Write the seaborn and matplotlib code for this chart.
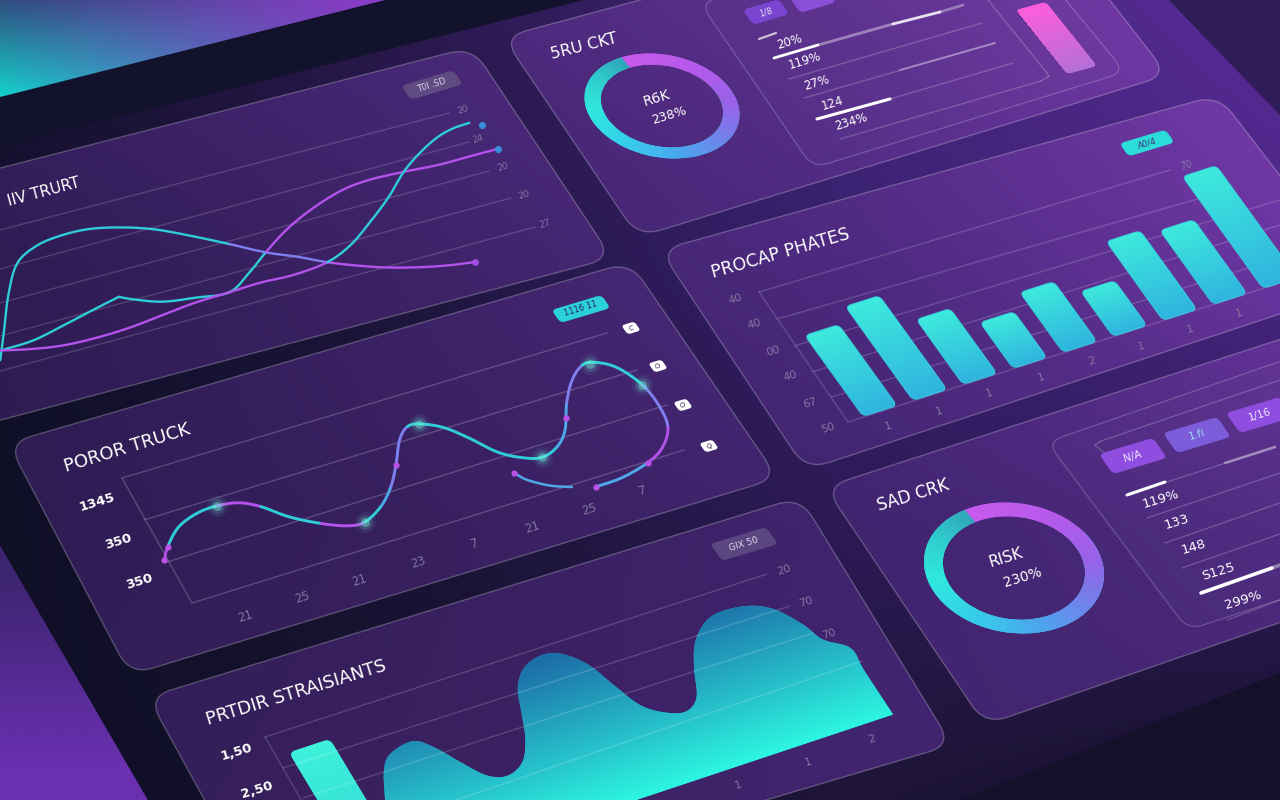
import numpy as np
import matplotlib
matplotlib.use("Agg")
import matplotlib.pyplot as plt
import seaborn as sns
from matplotlib.colors import to_rgb
from matplotlib.patches import PathPatch, FancyBboxPatch
from matplotlib.path import Path
from matplotlib.transforms import Affine2D

# ---------- data ----------
trend_a_x = [7,27,56,82,109,136,163,191,217,244,270,295,319,340,364,387,414,440,463]
trend_a_y = [29,51,83,106,116,119,118,112,103,89,74,59,48,37,27,19,12,7,4]
trend_b_x = [16,47,83,116,145,157,179,209,240,269,295,326,358,394,424,460,492,524,553]
trend_b_y = [37,38,44,50,55,49,41,37,34,46,59,73,84,93,96,95,93,93,93]
trend_c_x = [13,41,70,103,136,170,205,240,272,304,340,370,401,431,460,485,509,528,545]
trend_c_y = [37,31,27,26,27,30,33,34,35,34,37,46,61,77,95,107,116,120,121]
trend_labels = ["20", "24", "20", "20", "27"]

truck_x = [8,17,36,59,79,99,116,135,159,181,197,218,236,251,267,280,292,310,326,344,362,379,397,412,427,443,459,471,487,500,504,501,486,466,437,411]
truck_y = [54,64,78,85,86,83,74,58,44,35,34,43,57,74,95,104,103,94,79,59,48,43,48,60,83,101,111,110,100,79,57,36,20,11,5,4]
truck_tail_x = [348,355,372,390]
truck_tail_y = [37,28,17,10]
truck_dot_x = [8,17,251,419,467,348,411]
truck_dot_y = [54,64,74,70,11,37,4]
truck_glow_x = [79,197,291,379,466,500]
truck_glow_y = [86,34,103,43,110,79]
truck_xlabels = ["21","25","21","23","7","21","25","7"]
truck_ylabels = ["1345","350","350"]

rate_ids = list(range(9))
rate_values = [81,94,65,46,60,45,79,74,112]
rate_xlabels = ["1","1","1","1","2","1","1","1"]
rate_ylabels = ["40","40","00","40","67","50"]

strain_x = [85,127,141,155,180,195,209,224,241,260,274,284,294,310,331,348,364,375,387,404,422,438,451,466,490,521,545,563,572,591,591,593,593]
strain_y = [0,70,95,107,111,99,80,62,56,63,81,104,127,142,147,142,126,102,78,65,60,69,95,117,132,132,122,100,82,67,45,3,0]
strain_bar_x = [91]
strain_bar_y = [136]

risk_top = [23.8, 76.2]
risk_low = [23.0, 77.0]
side_bar_value = [64]

# ---------- helpers ----------
sns.set_theme(style="white")
fig = plt.figure(figsize=(12.8, 8), dpi=100, facecolor="#12122c")
N_SMOOTH = 8

def new_axes():
    ax = fig.add_axes([0, 0, 1, 1])
    ax.set_axis_off()
    ax.patch.set_visible(False)
    ax.set_autoscale_on(False)
    ax.set_xlim(0, 1280)
    ax.set_ylim(800, 0)
    return ax

canvas = new_axes()

def plane(O, ex, ey):
    m = np.array([[ex[0], ey[0], O[0]], [ex[1], ey[1], O[1]], [0, 0, 1.0]])
    return Affine2D(matrix=m) + canvas.transData

def warp(ax, T):
    for a in list(ax.lines) + list(ax.patches):
        a.set_transform(T)
    for c in ax.collections:
        c.set_offset_transform(T)

def smooth(xs, ys, n=N_SMOOTH):
    """Draws a read series as a rounded curve (line style only), knot i lands at index i*n."""
    P = np.column_stack([xs, ys]).astype(float)
    P = np.vstack([2*P[0]-P[1], P, 2*P[-1]-P[-2]])
    out = []
    for i in range(1, len(P)-2):
        for t in np.arange(n)/n:
            p = 0.5*((2*P[i]) + (P[i+1]-P[i-1])*t + (2*P[i-1]-5*P[i]+4*P[i+1]-P[i+2])*t**2
                     + (3*P[i]-P[i-1]-3*P[i+1]+P[i+2])*t**3)
            out.append(p)
    out.append(P[-2])
    out = np.array(out)
    return out[:, 0], out[:, 1]

def rpath(pts, r):
    pts = [np.array(p, float) for p in pts]
    n = len(pts)
    verts, codes = [], []
    for i, p in enumerate(pts):
        a = p + (pts[i-1]-p)/np.linalg.norm(pts[i-1]-p)*r
        b = p + (pts[(i+1) % n]-p)/np.linalg.norm(pts[(i+1) % n]-p)*r
        verts += [a, p, b]
        codes += [Path.MOVETO if i == 0 else Path.LINETO, Path.CURVE3, Path.CURVE3]
    verts.append(verts[0]); codes.append(Path.CLOSEPOLY)
    return Path(verts, codes)

def grid_img(ax, rows, clip):
    arr = np.array([[to_rgb(c) for c in r] for r in rows])
    im = ax.imshow(arr, extent=(-213, 1493, 933, -133), origin="upper",
                   aspect="auto", interpolation="bilinear", zorder=1)
    im.set_clip_path(clip, ax.transData)
    return im

def vgrad(ax, T, x0, x1, y0, y1, c0, c1, clip):
    t = np.linspace(0, 1, 64)[:, None, None]
    arr = (1-t)*np.array(to_rgb(c0))[None, None, :] + t*np.array(to_rgb(c1))[None, None, :]
    im = ax.imshow(arr, extent=(x0, x1, y0, y1), origin="lower", aspect="auto",
                   interpolation="bilinear", transform=T, zorder=3)
    im.set_clip_path(clip)
    return im

def seg(ax, pts, color="white", lw=1.0, alpha=0.2, z=2):
    p = np.array(pts)
    ax.plot(p[:, 0], p[:, 1], color=color, lw=lw, alpha=alpha, zorder=z, solid_capstyle="round")

def para(cx, cy, w, h, s=0.3, k=0.7):
    ex = np.array([1, -s]) * w/2
    ey = np.array([k, 1]) * h/2
    c = np.array([cx, cy])
    return [c-ex-ey, c+ex-ey, c+ex+ey, c-ex+ey]

def curve(ax, xs, ys, color, lw, z=3):
    sns.lineplot(x=list(xs), y=list(ys), ax=ax, color=color, lw=lw, estimator=None, sort=False, zorder=z)

# ---------- background ----------
BG_ROWS = [["#1d1338", "#2c1950", "#42257a", "#5a2c98"],
           ["#100f28", "#1f1640", "#3a2170", "#4a2684"],
           ["#0f0f26", "#1a1436", "#2c1a55", "#2e1a58"],
           ["#100f26", "#14112c", "#1e1538", "#14102a"]]
PANEL_ROWS = [["#3d2268", "#49297a", "#5e3190", "#7a3cae"],
              ["#2e1c52", "#3e2368", "#4d2a80", "#6a35a0"],
              ["#2d1c52", "#38205f", "#40246e", "#4e2a80"],
              ["#321e58", "#3a215f", "#41246e", "#44266f"]]

tri = Path([(0, 0), (385, 0), (0, 97), (0, 0)])
arr = np.array([[to_rgb("#2f4d7e"), to_rgb("#8d3bc9")], [to_rgb("#12d4cc"), to_rgb("#8d3bc9")]])
im = canvas.imshow(arr, extent=(-192, 577, 145, -48), origin="upper", aspect="auto", interpolation="bilinear")
im.set_clip_path(tri, canvas.transData)

tri2 = Path([(0, 545), (148, 800), (0, 800), (0, 545)])
arr = np.array([[to_rgb("#3d2470")], [to_rgb("#6a30b0")]])
im = canvas.imshow(arr, extent=(0, 148, 860, 485), origin="upper", aspect="auto", interpolation="bilinear")
im.set_clip_path(tri2, canvas.transData)

canvas.add_patch(PathPatch(Path([(1169, 0), (1280, 0), (1280, 115), (1169, 0)]), fc="#2f1c58", ec="none", lw=0))
canvas.add_patch(PathPatch(Path([(1280, 673), (1280, 800), (960, 800), (1280, 673)]), fc="#14102a", ec="none", lw=0))
slab = Path([(0, 147), (584, 0), (1169, 0), (1280, 115), (1280, 673), (960, 800), (148, 800), (0, 545), (0, 147)])
grid_img(canvas, BG_ROWS, slab)

panels = [
    [(-300, 245), (472, 47), (612, 258), (-150, 460)],
    [(503, 37), (1028, -105), (1168, 75), (638, 237)],
    [(8, 443), (630, 262), (778, 478), (130, 675)],
    [(148, 697), (800, 497), (952, 745), (283, 943)],
    [(660, 250), (1218, 95), (1365, 286), (806, 470)],
    [(825, 487), (1500, 268), (1500, 546), (985, 725)],
]
for pts in panels:
    p = rpath(pts, 24)
    grid_img(canvas, PANEL_ROWS, p)
    canvas.add_patch(PathPatch(p, fc="none", ec="white", lw=1.0, alpha=0.24, zorder=2))

for pts, r in [([(700, 3), (1000, -80), (1125, 72), (813, 168)], 16),
               ([(1047, 442), (1400, 320), (1400, 560), (1188, 630)], 16)]:
    canvas.add_patch(PathPatch(rpath(pts, r), fc=(1, 1, 1, 0.015), ec=(1, 1, 1, 0.2), lw=0.9, zorder=2))

# frame / grid lines
for a, b in [((0, 230), (449, 113)), ((0, 269), (469, 142)), ((0, 303), (489, 171)),
             ((0, 336), (511, 198)), ((0, 371), (535, 227))]:
    seg(canvas, [a, b], alpha=0.16)
for a, b in [((122, 478), (607, 333)), ((144, 520), (637, 370)), ((167, 562), (667, 405)),
             ((192, 603), (684, 450)), ((122, 478), (192, 603))]:
    seg(canvas, [a, b], alpha=0.2)
for a, b in [((759, 292), (1170, 170)), ((777, 319), (1201, 198)), ((794, 346), (1280, 200)),
             ((812, 372), (1280, 225)), ((832, 397), (1280, 258)), ((848, 422), (1280, 283)),
             ((759, 292), (848, 422))]:
    seg(canvas, [a, b], alpha=0.17)
for a, b in [((789, 79), (982, 23)), ((804, 98), (995, 43)), ((890, 99), (1013, 63)),
             ((988, 0), (1047, 73)), ((1047, 73), (1049, 76)), ((1049, 76), (1041, 81)), ((1041, 81), (840, 139)),
             ((1167, 482), (1275, 447)), ((1147, 518), (1280, 473)), ((1165, 543), (1280, 503)),
             ((1182, 568), (1280, 534)), ((1227, 620), (1280, 600)),
             ((1103, 452), (1095, 445)), ((1095, 445), (1101, 441)), ((1101, 441), (1280, 380))]:
    seg(canvas, [a, b], alpha=0.2)

# ---------- trend chart ----------
T1 = plane((15, 391), (1, -0.27), (-0.75, -1))
ax = new_axes()
TEAL, PURPLE, PERI, BLUE = "#2fcdd8", "#b452ec", "#7f80f0", "#4fa8e8"
n = N_SMOOTH
ax_, ay_ = smooth(trend_a_x, trend_a_y)
curve(ax, ax_[:10*n+1], ay_[:10*n+1], TEAL, 1.7)
curve(ax, ax_[10*n:13*n+1], ay_[10*n:13*n+1], PERI, 1.7)
curve(ax, ax_[13*n:], ay_[13*n:], PURPLE, 1.7)
bx1, by1 = smooth(trend_b_x[:5], trend_b_y[:5])
curve(ax, bx1, by1, TEAL, 1.7)
bx2, by2 = smooth(trend_b_x[4:], trend_b_y[4:])
curve(ax, bx2[:6*n+1], by2[:6*n+1], TEAL, 1.7)
curve(ax, bx2[6*n:], by2[6*n:], PURPLE, 1.7)
cx_, cy_ = smooth(trend_c_x, trend_c_y)
curve(ax, cx_[:10*n+1], cy_[:10*n+1], PURPLE, 1.7)
curve(ax, cx_[10*n:], cy_[10*n:], TEAL, 1.7)
sns.scatterplot(x=[trend_a_x[-1]], y=[trend_a_y[-1]], ax=ax, color="#a050e0", s=24, linewidth=0, zorder=4)
sns.scatterplot(x=[trend_b_x[-1], trend_c_x[-1] + 9], y=[trend_b_y[-1], trend_c_y[-1] - 5], ax=ax,
                color="#3a8fdc", s=26, linewidth=0, zorder=4)
warp(ax, T1)

# ---------- truck chart ----------
T2 = plane((187.8, 616), (1, -0.305), (-0.58, -1))
ax = new_axes()
spans = [(0, 1, PURPLE), (1, 4, TEAL), (4, 6, PURPLE), (6, 8, TEAL), (8, 10, PURPLE), (10, 11, TEAL),
         (11, 12, BLUE), (12, 15, PERI), (15, 22, TEAL), (22, 24, BLUE), (24, 26, PERI), (26, 29, TEAL),
         (29, 31, PERI), (31, 33, PURPLE), (33, 35, BLUE)]
tx_, ty_ = smooth(truck_x, truck_y)
for a, b, c in spans:
    curve(ax, tx_[a*n:b*n+1], ty_[a*n:b*n+1], c, 2.1)
t2x, t2y = smooth(truck_tail_x, truck_tail_y)
curve(ax, t2x, t2y, BLUE, 1.8)
for gs, ga in [(230, 0.07), (110, 0.16), (40, 0.4)]:
    sns.scatterplot(x=truck_glow_x, y=truck_glow_y, ax=ax, color="#6ff8dc", s=gs, alpha=ga, linewidth=0, zorder=4)
sns.scatterplot(x=truck_dot_x, y=truck_dot_y, ax=ax, color="#bb50e8", s=20, linewidth=0, zorder=5)
warp(ax, T2)

# ---------- rates bars ----------
T4 = plane((880, 411), (50, -16), (-0.72, -1))
ax = new_axes()
sns.barplot(x=rate_ids, y=rate_values, ax=ax, color="#36cfdf", saturation=1, width=0.68, errorbar=None, linewidth=0)
warp(ax, T4)
for bar in list(ax.patches):
    x, w, h = bar.get_x(), bar.get_width(), bar.get_height()
    rr = FancyBboxPatch((x, 0), w, h, boxstyle="round,pad=0,rounding_size=0.1", mutation_aspect=50, transform=T4)
    bar.set_clip_path(rr)
    vgrad(ax, T4, x, x+w, 0, h, "#30b4e0", "#3eeadc", rr)
    # soft rim to hide the hard edge of the clipped gradient
    rim = FancyBboxPatch((x, 0), w, h, boxstyle="round,pad=0,rounding_size=0.1", mutation_aspect=50,
                         transform=T4, fc="none", ec="#36d0df", lw=0.8, alpha=0.75, zorder=4)
    ax.add_patch(rim)

# ---------- strains area ----------
T3 = plane((300, 912), (1, -0.333), (-0.6, -1))
ax = new_axes()
sx_, sy_ = smooth(strain_x[1:-1], strain_y[1:-1])
area = ax.fill([strain_x[0], *sx_, strain_x[-1]], [strain_y[0], *sy_, strain_y[-1]], color="#1fb5cc", lw=0)[0]
sns.barplot(x=strain_bar_x, y=strain_bar_y, ax=ax, color="#3aeedc", saturation=1, native_scale=True,
            width=41, errorbar=None, linewidth=0)
ax.set_autoscale_on(False)
warp(ax, T3)
vgrad(ax, T3, 80, 600, 0, 150, "#2df5e0", "#1c68a6", area)
sb = [p for p in ax.patches if p is not area][0]
rr = FancyBboxPatch((sb.get_x(), 0), sb.get_width(), sb.get_height(), boxstyle="round,pad=0,rounding_size=6", transform=T3)
sb.set_clip_path(rr)
vgrad(ax, T3, sb.get_x(), sb.get_x()+sb.get_width(), 0, sb.get_height(), "#2fd0d0", "#3ef2dc", rr)

# ---------- pink bar ----------
T5 = plane((1082, 70), (1, -0.27), (-0.8, -1))
ax = new_axes()
sns.barplot(x=[0], y=side_bar_value, ax=ax, color="#e864dc", saturation=1, native_scale=True, width=30,
            errorbar=None, linewidth=0)
ax.set_autoscale_on(False)
warp(ax, T5)
pb = ax.patches[0]
rr = FancyBboxPatch((pb.get_x(), 0), pb.get_width(), pb.get_height(), boxstyle="round,pad=0,rounding_size=4", transform=T5)
pb.set_clip_path(rr)
vgrad(ax, T5, pb.get_x(), pb.get_x()+pb.get_width(), 0, pb.get_height(), "#b470d8", "#ff5ddc", rr)

# ---------- donuts ----------
stops_f = [0, .15, .3, .42, .55, .68, .8, .9, 1]
stops_c = ["#c75aee", "#b85aec", "#9a62e8", "#7480ec", "#4aa8ee", "#35d0ea", "#30e8dc", "#30cfcf", "#2fa6b8"]
def donut(C, ex, ey, values, start):
    T = plane(C, ex, ey)
    ax = new_axes()
    wedges, _ = ax.pie(values, startangle=start, counterclock=False, radius=1,
                       wedgeprops=dict(width=0.21, linewidth=0, edgecolor="none"), colors=["#c75aee", "#35d0ea"])
    ax.set_aspect("auto")
    ax.set_autoscale_on(False)
    warp(ax, T)
    g = np.linspace(-1.02, 1.02, 500)
    X, Y = np.meshgrid(g, g)
    f = ((start - np.degrees(np.arctan2(Y, X))) % 360) / 360
    cols = np.array([to_rgb(c) for c in stops_c])
    rgb = np.dstack([np.interp(f, stops_f, cols[:, i]) for i in range(3)])
    for w in wedges:
        im = ax.imshow(rgb, extent=(-1.02, 1.02, -1.02, 1.02), origin="lower", aspect="auto",
                       interpolation="bilinear", transform=T, zorder=3)
        im.set_clip_path(w)

donut((662, 106), (66, -19.8), (-40.6, -48.6), risk_top, 90)
donut((1014, 568), (80, -24), (-41.2, -60.9), risk_low, 96)

# ---------- overlay: grid over area, bright bars, text ----------
top = new_axes()
for a, b in [((265, 737), (767, 574)), ((283, 768), (790, 606)), ((303, 798), (813, 633)),
             ((456, 800), (862, 661)), ((265, 737), (330, 850))]:
    seg(top, [a, b], alpha=0.17)
for a, b, lw, al in [((774, 58), (818, 45), 2, 1), ((818, 45), (893, 24), 2, .4), ((893, 24), (940, 12), 2, .85),
                     ((940, 12), (963, 5), 2, .35), ((759, 39), (776, 33), 1.6, .7), ((900, 70), (995, 43), 1.5, .3),
                     ((817, 119), (890, 99), 2.2, 1), ((1127, 495), (1165, 482), 2.2, 1),
                     ((1225, 463), (1275, 447), 2, .35), ((1201, 593), (1272, 568), 2.6, 1),
                     ((1272, 568), (1280, 565), 2.6, .4)]:
    seg(top, [a, b], lw=lw, alpha=al, z=4)

def txt(x, y, s, size, color="white", rot=17, weight="normal"):
    top.text(x, y, s, fontsize=size, color=color, rotation=rot, rotation_mode="anchor",
             ha="center", va="center", fontweight=weight, zorder=6, family="DejaVu Sans")

def badge(cx, cy, w, h, color, text, tc, r=5, fs=6, rot=17):
    top.add_patch(PathPatch(rpath(para(cx, cy, w, h), r), fc=color, ec="none", lw=0, zorder=4))
    txt(cx, cy, text, fs, tc, rot)

for s, x, y, rot, fs in [("IIV TRURT", 44, 192, 15, 11), ("5RU CKT", 584, 46, 14, 11.5),
                         ("POROR TRUCK", 127, 448, 17, 13), ("PROCAP PHATES", 780, 253, 16, 12.5),
                         ("PRTDIR STRAISIANTS", 296, 693, 17, 13), ("SAD CRK", 913, 495, 17, 12)]:
    txt(x, y, s, fs, rot=rot)

GREY = "#85759f"
for s, (x, y) in zip(trend_labels, [(463, 110), (478, 139), (503, 167), (524, 195), (545, 224)]):
    txt(x, y, s, 6.5, GREY)
for s, (x, y) in zip(truck_xlabels, [(245, 616), (302, 597), (359, 580), (418, 562), (475, 544), (532, 527), (589, 509), (643, 491)]):
    txt(x, y, s, 8.5, GREY)
for s, (x, y) in zip(truck_ylabels, [(97, 502), (118, 542), (139, 582)]):
    txt(x, y, s, 9.5, weight="bold")
for s, (x, y) in zip(rate_ylabels, [(735, 299), (754, 324), (773, 351), (790, 376), (810, 403), (828, 428)]):
    txt(x, y, s, 8, GREY)
for s, (x, y) in zip(rate_xlabels, [(888, 426), (939, 411), (989, 393), (1041, 377), (1092, 361), (1141, 346), (1190, 329), (1239, 313)]):
    txt(x, y, s, 8, GREY)
txt(1186, 165, "70", 7, GREY)
for s, x, y in [("20", 784, 570), ("70", 806, 602), ("70", 829, 634), ("2", 872, 739), ("1", 808, 762), ("1", 738, 785)]:
    txt(x, y, s, 8, GREY)
txt(237, 752, "1,50", 9.5, weight="bold")
txt(257, 790, "2,50", 9.5, weight="bold")

txt(657, 98, "R6K", 10)
txt(669, 115, "238%", 9)
txt(1006, 558, "RISK", 11)
txt(1023, 577, "230%", 10)
for s, x, y in [("20%", 790, 42), ("119%", 805, 61), ("27%", 817, 83), ("124", 832, 103), ("234%", 851, 122)]:
    txt(x, y, s, 8.5)
for s, x, y in [("119%", 1161, 499), ("133", 1177, 522), ("148", 1194, 547), ("S125", 1218, 572), ("299%", 1243, 600)]:
    txt(x, y, s, 9.5)

badge(432, 85, 52, 14, "#5f4a82", "T0I .SD", "#d8d0e8")
badge(581, 309, 50, 13, "#2bd0d8", "1116 11", "#2a2060")
badge(1147, 143, 46, 13, "#2bdcd8", "A0/4", "#43307f")
badge(744, 544, 56, 17, "#5b4680", "GIX 50", "#e0d8ee", fs=6.5)
badge(766, 12, 36, 15, "#7a45d0", "1/8", "#e8e0f8")
badge(813, 0, 36, 15, "#8a4ed8", "", "white")
badge(1133, 456, 54, 20, "#8f4ee0", "N/A", "#f0e8ff", fs=7.5)
badge(1197, 435, 54, 20, "#7c5cd8", "1.fi", "#a0d8f8", fs=7.5)
badge(1260, 415, 54, 20, "#8f4ee0", "1/16", "#f0e8ff", fs=7.5)
for s, x, y in [("C", 631, 328), ("O", 658, 366), ("O", 683, 405), ("Q", 709, 446)]:
    badge(x, y, 13, 9, "white", s, "#302050", r=3, fs=5)

canvas.set_xlim(0, 1280)
canvas.set_ylim(800, 0)
fig.savefig("out.png", dpi=100, facecolor=fig.get_facecolor())
